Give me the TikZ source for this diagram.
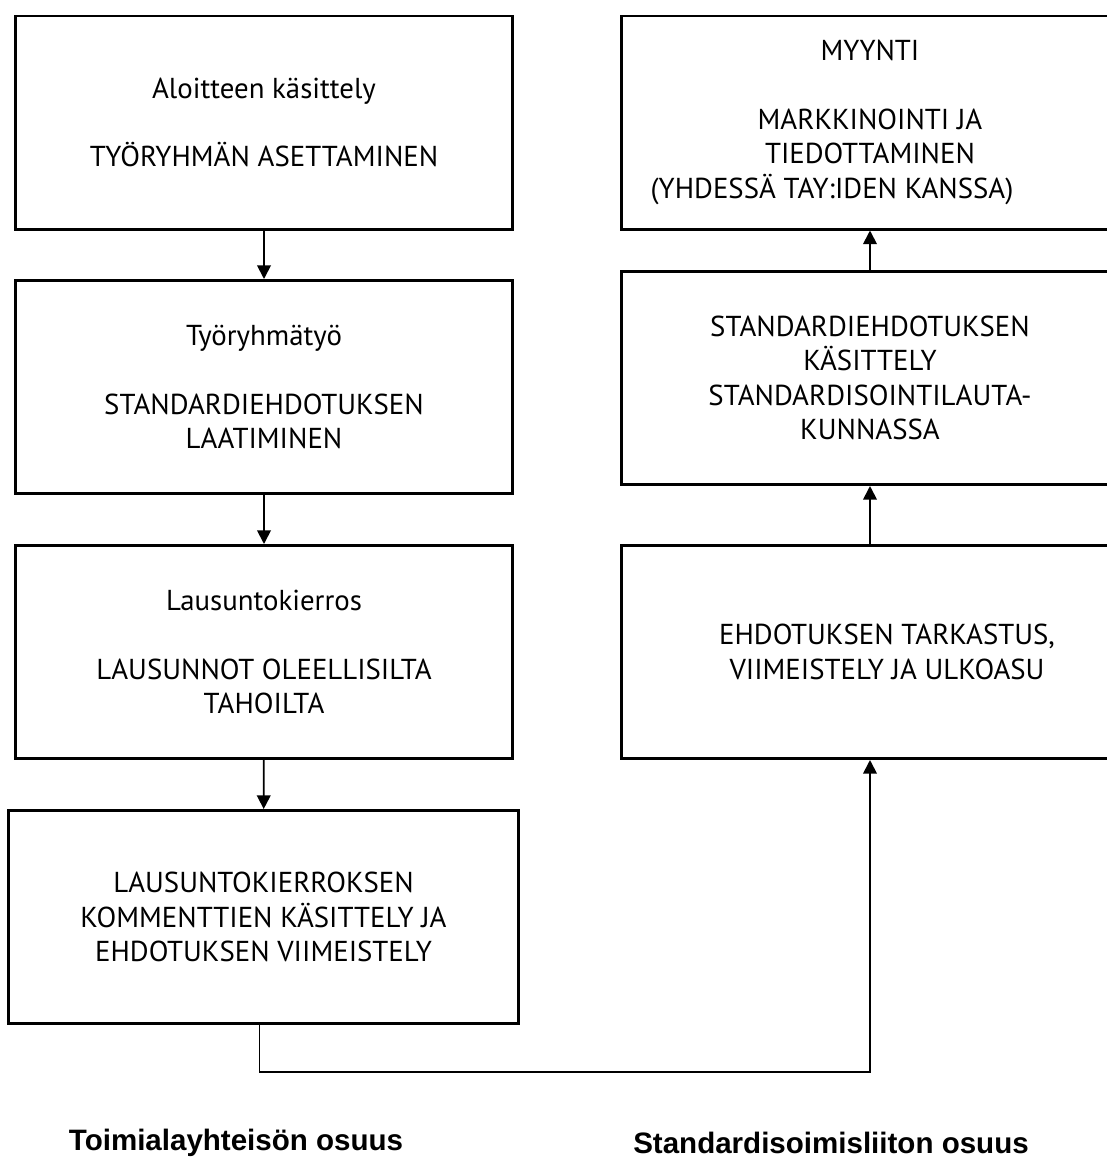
\documentclass[tikz,border=0pt]{standalone}
\usepackage{fontspec}
\setmainfont{PT Sans}
\newfontfamily\labelfont{Liberation Sans}
\usetikzlibrary{arrows.meta}

\begin{document}
\begin{tikzpicture}[
    x=0.025cm, y=-0.025cm,
    phase/.style={draw=black, fill=white, minimum width=12.4cm, minimum height=5.325cm,
                  align=center, inner sep=0pt, line width=2.1pt,
                  font=\fontsize{20.5}{24.4}\selectfont},
    arrow/.style={draw=black, line width=1.3pt, -{Triangle[width=0.34cm, length=0.34cm]}},
    osuus/.style={font=\labelfont\bfseries\fontsize{21}{24}\selectfont},
]
\clip (0,0) rectangle (1107,1160);

% Toimialayhteisö
\node[phase] (b1) at (264, 122.5) {Aloitteen käsittely\\[0.86cm]TYÖRYHMÄN ASETTAMINEN};
\node[phase] (b2) at (264, 387) {Työryhmätyö\\[0.86cm]STANDARDIEHDOTUKSEN\\LAATIMINEN};
\node[phase] (b3) at (264, 652) {Lausuntokierros\\[0.86cm]LAUSUNNOT OLEELLISILTA\\TAHOILTA};
\node[phase, minimum width=12.725cm] (b4) at (263.5, 917) {LAUSUNTOKIERROKSEN\\KOMMENTTIEN KÄSITTELY JA\\EHDOTUKSEN VIIMEISTELY};

% Standardisoimisliitto
\node[phase] (r1) at (870, 122.5) {MYYNTI\\[0.86cm]MARKKINOINTI JA\\TIEDOTTAMINEN\\(YHDESSÄ TAY:IDEN KANSSA)\hspace*{1.9cm}};
\node[phase] (r2) at (870, 378) {STANDARDIEHDOTUKSEN\\KÄSITTELY\\STANDARDISOINTILAUTA-\\KUNNASSA};
\node[phase, minimum width=13.25cm] (r3) at (887, 652) {EHDOTUKSEN TARKASTUS,\\VIIMEISTELY JA ULKOASU};

% Nuolet
\draw[arrow] (b1) -- (b2);
\draw[arrow] (b2) -- (b3);
\draw[arrow] (b3) -- (b4);
\coordinate (turn) at ([xshift=-0.1cm]b4.south |- 0,1072);
\draw[arrow] ([xshift=-0.1cm]b4.south) -- (turn) -| (r3.south -| r2.south);
\draw[arrow] (r3.north -| r2.south) -- (r2.south);
\draw[arrow] (r2) -- (r1);

% Osuudet
\node[osuus] (t1) at (236, 1143) {Toimialayhteisön osuus};
\node[osuus] (t2) at (831, 1143) {Standardisoimisliiton osuus};

\end{tikzpicture}
\end{document}
